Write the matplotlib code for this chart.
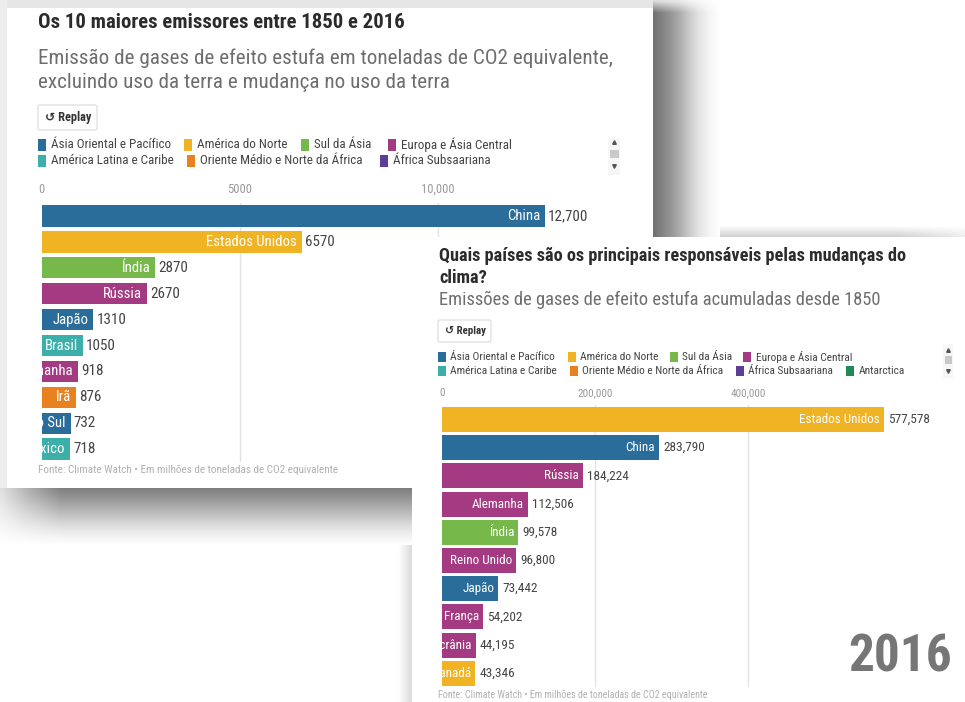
import numpy as np
import matplotlib
matplotlib.use("Agg")
import matplotlib.pyplot as plt
from matplotlib import font_manager as fm
from matplotlib.patches import Rectangle, FancyBboxPatch
from matplotlib.transforms import ScaledTranslation

# ---------------- fonts ----------------
avail = {f.name for f in fm.fontManager.ttflist}
BASE = "DejaVu Sans"
for cand in ["Roboto Condensed", "Liberation Sans Narrow", "Roboto"]:
    if cand in avail:
        BASE = cand
        break
FAM = [BASE, "DejaVu Sans"]
plt.rcParams["font.family"] = FAM

# ---------------- data ----------------
title1 = "Os 10 maiores emissores entre 1850 e 2016"
subtitle1 = ["Emissão de gases de efeito estufa em toneladas de CO2 equivalente,",
             "excluindo uso da terra e mudança no uso da terra"]
countries1 = ["China", "Estados Unidos", "Índia", "Rússia", "Japão", "Brasil",
              "Alemanha", "Irã", "Coreia do Sul", "México"]
values1 = [12700, 6570, 2870, 2670, 1310, 1050, 918, 876, 732, 718]
regions1 = ["Ásia Oriental e Pacífico", "América do Norte", "Sul da Ásia",
            "Europa e Ásia Central", "Ásia Oriental e Pacífico", "América Latina e Caribe",
            "Europa e Ásia Central", "Oriente Médio e Norte da África",
            "Ásia Oriental e Pacífico", "América Latina e Caribe"]
ticks1 = [0, 5000, 10000]
ticklabels1 = ["0", "5000", "10,000"]
legend1 = ["Ásia Oriental e Pacífico", "América do Norte", "Sul da Ásia",
           "Europa e Ásia Central", "América Latina e Caribe",
           "Oriente Médio e Norte da África", "África Subsaariana"]

title2 = ["Quais países são os principais responsáveis pelas mudanças do", "clima?"]
subtitle2 = "Emissões de gases de efeito estufa acumuladas desde 1850"
countries2 = ["Estados Unidos", "China", "Rússia", "Alemanha", "Índia", "Reino Unido",
              "Japão", "França", "Ucrânia", "Canadá"]
values2 = [577578, 283790, 184224, 112506, 99578, 96800, 73442, 54202, 44195, 43346]
regions2 = ["América do Norte", "Ásia Oriental e Pacífico", "Europa e Ásia Central",
            "Europa e Ásia Central", "Sul da Ásia", "Europa e Ásia Central",
            "Ásia Oriental e Pacífico", "Europa e Ásia Central", "Europa e Ásia Central",
            "América do Norte"]
ticks2 = [0, 200000, 400000]
ticklabels2 = ["0", "200,000", "400,000"]
legend2 = ["Ásia Oriental e Pacífico", "América do Norte", "Sul da Ásia",
           "Europa e Ásia Central", "América Latina e Caribe",
           "Oriente Médio e Norte da África", "África Subsaariana", "Antarctica"]

footer = "Fonte: Climate Watch • Em milhões de toneladas de CO2 equivalente"
year_label = "2016"
replay_label = "↺ Replay"

# ---------------- styles ----------------
REGION_COLORS = {
    "Ásia Oriental e Pacífico": "#2a6c9a",
    "América do Norte": "#efb324",
    "Sul da Ásia": "#77b84b",
    "Europa e Ásia Central": "#a43b82",
    "América Latina e Caribe": "#3cafaa",
    "Oriente Médio e Norte da África": "#e8821e",
    "África Subsaariana": "#5c3e99",
    "Antarctica": "#1f8a58",
}
W, H = 965, 702


def fmt(v):
    return f"{v:,}" if v >= 10000 else str(v)


fig = plt.figure(figsize=(W / 100, H / 100), dpi=100, facecolor="white")
renderer = fig.canvas.get_renderer()


def size_for(s, width, weight="normal"):
    t = fig.text(0, 0, s, fontsize=10, fontweight=weight)
    w = t.get_window_extent(renderer).width
    t.remove()
    return 10.0 * width / w


def px_axes(z):
    a = fig.add_axes([0, 0, 1, 1], zorder=z)
    a.set_xlim(0, W)
    a.set_ylim(H, 0)
    a.axis("off")
    return a


def frac(x0, y0, x1, y1):
    return [x0 / W, 1 - y1 / H, (x1 - x0) / W, (y1 - y0) / H]


def grad(ax, x0, x1, y0, y1, arr):
    rgb = np.dstack([arr, arr, arr])
    ax.imshow(rgb, extent=(x0, x1, y1, y0), aspect="auto",
              interpolation="bilinear", zorder=1)


def fit(ax, x, y, s, width, weight="normal", **kw):
    fs = size_for(s, width, weight)
    return ax.text(x, y, s, fontsize=fs, fontweight=weight, **kw)


def replay(ax, x0, y0, x1, y1, tx, tw):
    ax.add_patch(FancyBboxPatch((x0, y0), x1 - x0, y1 - y0,
                                boxstyle="round,pad=0,rounding_size=2",
                                fc="white", ec="#e2e2e2", lw=1, zorder=3))
    fit(ax, tx, (y0 + y1) / 2, replay_label, tw, weight="bold",
        color="#333333", va="center", ha="left", zorder=4)


def scrollbar(ax, x0, x1, y0, y1, up, t0, t1, dn):
    ax.add_patch(Rectangle((x0, y0), x1 - x0, y1 - y0, fc="#f6f6f6", ec="none", zorder=3))
    ax.add_patch(Rectangle((x0 + 1.5, t0), x1 - x0 - 3, t1 - t0, fc="#c9c9c9", ec="none", zorder=4))
    xc = (x0 + x1) / 2
    ax.plot([xc], [up], marker="^", ms=2.6, color="#555555", zorder=4)
    ax.plot([xc], [dn], marker="v", ms=2.6, color="#555555", zorder=4)


def legend(ax, labels, sq_x, rows, row_y, sq_w, sq_h, gap, lw):
    fs = size_for(labels[0], lw)
    for lab, sx, r in zip(labels, sq_x, rows):
        yc = row_y[r]
        ax.add_patch(Rectangle((sx, yc - sq_h / 2), sq_w, sq_h,
                               fc=REGION_COLORS[lab], ec="none", zorder=3))
        ax.text(sx + sq_w + gap, yc, lab, fontsize=fs, color="#444444",
                va="center", ha="left", zorder=3)


# ================= background, shadows, card 1 =================
bg = px_axes(0)
bg.add_patch(Rectangle((0, 0), W, H, fc="white", ec="none", zorder=0))
# top and left light bands
bg.add_patch(Rectangle((0, 0), 660, 8, fc="#e6e6e6", ec="none", zorder=0.5))
bg.add_patch(Rectangle((0, 0), 7, 490, fc="#ededed", ec="none", zorder=0.5))

# panel 2 top shadow
ys = np.linspace(0, 1, 12)[:, None] * np.ones((1, 60))
xf = np.ones((12, 1)) * np.interp(np.linspace(653, 965, 60), [653, 900, 965], [1, 1, 0.4])[None, :]
grad(bg, 653, 965, 226, 237, 1 - (1 - np.interp(ys, [0, 1], [0.99, 0.82])) * xf)
# panel 2 left shadow
xs = np.linspace(398, 412, 15)
arr = np.ones((40, 1)) * np.interp(xs, [398, 412], [1.0, 0.86])[None, :]
grad(bg, 398, 412, 488, 702, arr)

# panel 1 right shadow
xs = np.linspace(653, 720, 68)
ys = np.linspace(0, 237, 120)
hx = np.interp(xs, [653, 660, 670, 680, 690, 700, 710, 720],
               [0.44, 0.5, 0.58, 0.68, 0.8, 0.9, 0.96, 1.0])
vy = np.interp(ys, [0, 4, 12, 237], [0.25, 0.5, 1, 1])
arr = 1 - (1 - hx[None, :]) * vy[:, None]
grad(bg, 653, 720, 0, 237, arr)
# panel 1 bottom shadow
xs = np.linspace(0, 412, 120)
ys = np.linspace(488, 545, 58)
vy = np.interp(ys, [488, 495, 505, 515, 525, 535, 545],
               [0.5, 0.56, 0.66, 0.76, 0.86, 0.94, 1.0])
hx = np.interp(xs, [0, 25, 60, 412], [0.25, 0.6, 1, 1])
arr = 1 - (1 - vy[:, None]) * hx[None, :]
grad(bg, 0, 412, 488, 545, arr)

# card 1
bg.add_patch(Rectangle((7, 8), 646, 480, fc="white", ec="none", zorder=2))

fit(bg, 38, 22, title1, 367, weight="bold", color="#2b2b2b", va="center", zorder=3)
fs_sub1 = size_for(subtitle1[0], 568)
bg.text(38, 58, subtitle1[0], fontsize=fs_sub1, color="#6e6e6e", va="center", zorder=3)
bg.text(38, 83, subtitle1[1], fontsize=fs_sub1, color="#6e6e6e", va="center", zorder=3)
replay(bg, 38, 105, 97, 130, 45, 46)
legend(bg, legend1, [38, 184, 301, 388, 38, 187, 380], [0, 0, 0, 0, 1, 1, 1],
       [145, 161], 8, 12, 5, 119)
scrollbar(bg, 608, 620, 138, 175, 142, 150, 158, 166)
fit(bg, 38, 470, footer, 300, color="#b0b0b0", va="center", zorder=3)
bg.set_xlim(0, W)
bg.set_ylim(H, 0)


# ================= bar chart helper =================
def bars(ax, names, vals, regs, ticks, tlabels, xmax, hgt, fs_name, fs_val,
         fs_tick, pad_in, pad_out, tick_pad):
    y = np.arange(len(vals))
    ax.barh(y, vals, height=hgt, color=[REGION_COLORS[r] for r in regs], zorder=2)
    ax.set_xlim(0, xmax)
    ax.set_ylim(len(vals) - 0.5, -0.5)
    ax.patch.set_alpha(0)
    for s in ax.spines.values():
        s.set_visible(False)
    for t in ticks[1:]:
        ax.axvline(t, color="#e3e3e3", lw=1, zorder=0)
    ax.set_yticks([])
    ax.xaxis.tick_top()
    ax.set_xticks(ticks, tlabels)
    ax.tick_params(axis="x", length=0, pad=tick_pad, labelsize=fs_tick, labelcolor="#9a9a9a")
    off_in = ScaledTranslation(-pad_in / 100, 0, fig.dpi_scale_trans)
    off_out = ScaledTranslation(pad_out / 100, 0, fig.dpi_scale_trans)
    for i, (n, v) in enumerate(zip(names, vals)):
        ax.text(v, i, n, transform=ax.transData + off_in, ha="right", va="center",
                color="white", fontsize=fs_name, clip_on=True, zorder=3)
        ax.text(v, i, fmt(v), transform=ax.transData + off_out, ha="left", va="center",
                color="#444444", fontsize=fs_val, zorder=3)


# chart 1
x0_1, x1_1, sc1 = 41.5, 600, 0.03965
ax1 = fig.add_axes(frac(x0_1, 203.05, x1_1, 462.05), zorder=1)
bars(ax1, countries1, values1, regions1, ticks1, ticklabels1,
     (x1_1 - x0_1) / sc1, 0.82,
     size_for("Estados Unidos", 90), size_for("12,700", 40), size_for("10,000", 33),
     5, 3, 5)

# ================= card 2 =================
bg2 = px_axes(2)
bg2.add_patch(Rectangle((412, 237), W - 412, H - 237, fc="white", ec="none", zorder=2))
fs_t2 = size_for(title2[0], 469, "bold")
bg2.text(439, 256, title2[0], fontsize=fs_t2, fontweight="bold", color="#2b2b2b", va="center", zorder=3)
bg2.text(439, 278, title2[1], fontsize=fs_t2, fontweight="bold", color="#2b2b2b", va="center", zorder=3)
fit(bg2, 439, 300, subtitle2, 437, color="#6e6e6e", va="center", zorder=3)
replay(bg2, 438, 320, 491, 342, 445, 41)
legend(bg2, legend2, [438, 568, 670, 743, 438, 570, 736, 846], [0, 0, 0, 0, 1, 1, 1, 1],
       [357, 371], 8, 10, 4.5, 104)
scrollbar(bg2, 943, 953, 345, 378, 350, 356, 364, 371)
fit(bg2, 438, 695, footer, 267, color="#b0b0b0", va="center", zorder=3)
fit(bg2, 900, 657, year_label, 104, weight="bold", color="#767676", va="center",
    ha="center", zorder=3)
bg2.set_xlim(0, W)
bg2.set_ylim(H, 0)

# chart 2
x0_2, x1_2, sc2 = 442, 940, 0.000765
ax2 = fig.add_axes(frac(x0_2, 405.4, x1_2, 687.4), zorder=3)
bars(ax2, countries2, values2, regions2, ticks2, ticklabels2,
     (x1_2 - x0_2) / sc2, 0.89,
     size_for("Estados Unidos", 80), size_for("577,578", 42), size_for("200,000", 35),
     4, 4, 5)

fig.savefig("out.png", dpi=100, facecolor="white")
